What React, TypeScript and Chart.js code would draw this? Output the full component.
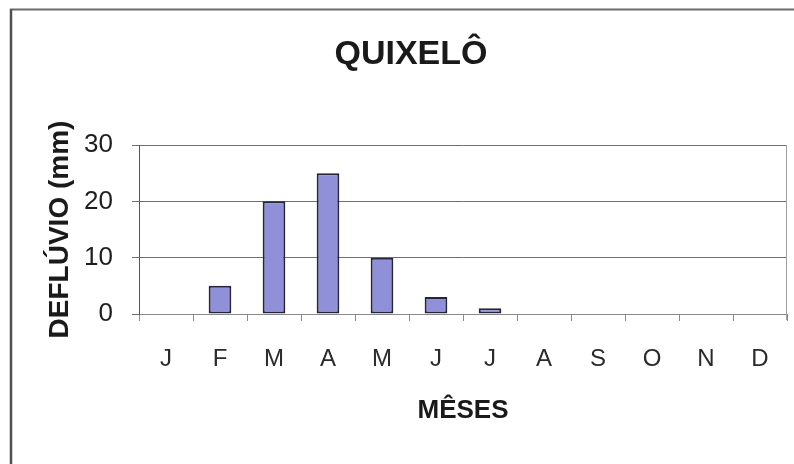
import React, { useEffect, useRef } from "react";
import { Chart, registerables } from "chart.js";

Chart.register(...registerables);

const TITLE = "QUIXELÔ";
const Y_TITLE = "DEFLÚVIO (mm)";
const X_TITLE = "MÊSES";
const MONTHS = ["J", "F", "M", "A", "M", "J", "J", "A", "S", "O", "N", "D"];
const RUNOFF = [0, 5, 20, 25, 10, 3, 1, 0, 0, 0, 0, 0];
const Y_MIN = 0;
const Y_MAX = 30;
const Y_STEP = 10;

const FONT = "'Liberation Sans', Arial, sans-serif";

const framePlugin = {
  id: "frame",
  beforeDraw(chart: any) {
    const { ctx, width, height } = chart;
    ctx.save();
    ctx.fillStyle = "#ffffff";
    ctx.fillRect(0, 0, width, height);
    ctx.restore();
  },
  afterDraw(chart: any) {
    const { ctx, width, height, chartArea } = chart;
    ctx.save();
    // scanned page frame
    ctx.strokeStyle = "#6a6a6a";
    ctx.lineWidth = 2;
    ctx.beginPath();
    ctx.moveTo(10, 9.5);
    ctx.lineTo(width, 9.5);
    ctx.stroke();
    ctx.strokeStyle = "#505050";
    ctx.lineWidth = 2.5;
    ctx.beginPath();
    ctx.moveTo(11, 9);
    ctx.lineTo(11, height);
    ctx.stroke();
    // plot area right border
    ctx.strokeStyle = "#a0a0a0";
    ctx.lineWidth = 1;
    ctx.beginPath();
    ctx.moveTo(Math.round(chartArea.right) - 0.5, chartArea.top);
    ctx.lineTo(Math.round(chartArea.right) - 0.5, chartArea.bottom + 6);
    ctx.stroke();
    ctx.restore();
  },
};

export default function App() {
  const canvasRef = useRef<HTMLCanvasElement | null>(null);

  useEffect(() => {
    if (!canvasRef.current) return;
    const chart = new Chart(canvasRef.current, {
      type: "bar",
      data: {
        labels: MONTHS,
        datasets: [
          {
            label: "Deflúvio",
            data: RUNOFF,
            backgroundColor: "#9090d8",
            borderColor: "#25253a",
            borderWidth: (c: any) => (c.raw > 0 ? 2 : 0),
            borderSkipped: false,
            categoryPercentage: 1,
            barPercentage: 0.42,
          },
        ],
      },
      options: {
        animation: false,
        responsive: false,
        maintainAspectRatio: false,
        layout: { padding: { left: 35, right: 7, top: 0, bottom: 0 } },
        plugins: {
          legend: { display: false },
          tooltip: { enabled: false },
          title: {
            display: true,
            text: TITLE,
            color: "#1a1a1a",
            font: { family: FONT, size: 34, weight: "bold", lineHeight: 1.2 },
            padding: { top: 34.6, bottom: 69.6 },
          },
        },
        scales: {
          x: {
            offset: true,
            grid: {
              display: true,
              drawOnChartArea: false,
              drawTicks: true,
              tickLength: 7,
              offset: true,
              color: "#8a8a8a",
            },
            border: { display: true, color: "#8a8a8a", width: 1 },
            ticks: {
              color: "#2a2a2a",
              padding: 23.6,
              font: { family: FONT, size: 24, lineHeight: 1.2 },
              maxRotation: 0,
              autoSkip: false,
            },
            title: {
              display: true,
              text: X_TITLE,
              color: "#1a1a1a",
              font: { family: FONT, size: 26, weight: "bold", lineHeight: 1.2 },
              padding: { top: 0, bottom: 37.9 },
            },
            afterFit: (s: any) => {
              s.height = 150;
            },
          },
          y: {
            min: Y_MIN,
            max: Y_MAX,
            grid: {
              color: "#6e6e6e",
              lineWidth: 1,
              tickLength: 7,
              drawTicks: true,
            },
            border: { display: true, color: "#555555", width: 1 },
            ticks: {
              stepSize: Y_STEP,
              color: "#1e1e1e",
              padding: 19,
              font: { family: FONT, size: 26, lineHeight: 1.2 },
            },
            title: {
              display: true,
              text: Y_TITLE,
              color: "#1a1a1a",
              font: { family: FONT, size: 28, weight: "bold", lineHeight: 1.2 },
              padding: { top: 8.2, bottom: 0 },
            },
            afterFit: (s: any) => {
              s.width = 104;
            },
          },
        },
      },
      plugins: [framePlugin],
    });
    return () => chart.destroy();
  }, []);

  return (
    <div
      style={{
        position: "fixed",
        left: 0,
        top: 0,
        width: 794,
        height: 464,
        background: "#ffffff",
        overflow: "hidden",
      }}
    >
      <canvas ref={canvasRef} width={794} height={464} style={{ display: "block" }} />
    </div>
  );
}
